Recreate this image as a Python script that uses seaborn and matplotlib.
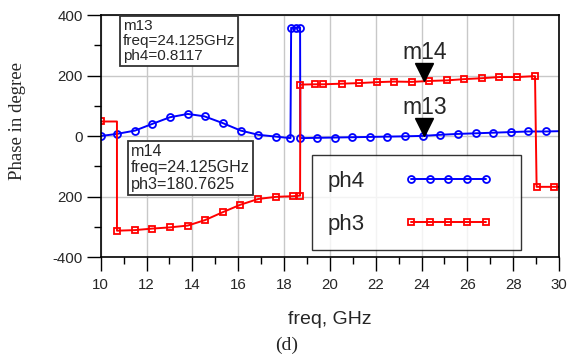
import matplotlib
matplotlib.use("Agg")
import matplotlib.pyplot as plt
from matplotlib.ticker import MultipleLocator, FixedLocator, FixedFormatter
import seaborn as sns
import pandas as pd

# ---- data ----
ph4_freq = [10.0, 10.71, 11.50, 12.25, 13.02, 13.80, 14.53, 15.35, 16.11, 16.88, 17.65,
            18.28, 18.31, 18.52, 18.70, 18.71, 19.45, 20.22, 20.98, 21.75, 22.50, 23.28,
            24.08, 24.80, 25.60, 26.36, 27.13, 27.89, 28.66, 29.42, 30.0]
ph4_val = [0, 7, 18, 40, 62, 73, 65, 42, 18, 4, -2,
           -7, 358, 358, 358, -7, -6, -5, -4, -3, -2, -1,
           0.5, 4, 7, 9, 11, 13, 15, 15, 16]
ph4_marked = list(range(len(ph4_freq) - 1))

ph3_freq = [10.0, 10.71, 10.71, 11.50, 12.25, 13.02, 13.80, 14.55, 15.32, 16.10, 16.88,
            17.65, 18.38, 18.70, 18.71, 19.35, 19.71, 20.51, 21.28, 22.04, 22.80, 23.58,
            24.34, 25.12, 25.85, 26.62, 27.39, 28.18, 28.95, 29.02, 29.79, 30.0]
ph3_val = [48, 48, -313, -311, -306, -302, -296, -278, -252, -227, -208,
           -201, -199, -197, 170, 171, 171, 173, 175, 178, 180, 179,
           182, 184, 188, 191, 195, 195, 198, -168, -168, -168]
ph3_marked = [i for i in range(len(ph3_freq) - 1) if i != 1]

x_ticks = [10, 12, 14, 16, 18, 20, 22, 24, 26, 28, 30]
y_ticks = [400, 200, 0, -200, -400]
y_tick_labels = ["400", "200", "0", "200", "-400"]

m13 = dict(name="m13", freq=24.125, value=0.8117, label="ph4")
m14 = dict(name="m14", freq=24.125, value=180.7625, label="ph3")

df4 = pd.DataFrame({"freq": ph4_freq, "phase": ph4_val})
df3 = pd.DataFrame({"freq": ph3_freq, "phase": ph3_val})

# ---- style ----
sns.set_style("white")
plt.rcParams["font.family"] = ["Liberation Sans", "DejaVu Sans"]

fig = plt.figure(figsize=(5.74, 3.55), dpi=100)
ax = fig.add_axes([0.1754, 0.276, 0.7986, 0.6817])

sns.lineplot(data=df4, x="freq", y="phase", ax=ax, sort=False, estimator=None,
             color="#0000ff", lw=1.4, marker="o", markersize=5, mfc="none",
             mec="#0000ff", mew=1.3, markevery=ph4_marked, label="ph4", legend=False)
sns.lineplot(data=df3, x="freq", y="phase", ax=ax, sort=False, estimator=None,
             color="#ff0000", lw=1.4, marker="s", markersize=5, mfc="none",
             mec="#ff0000", mew=1.3, markevery=ph3_marked, label="ph3", legend=False)

ax.set_xlim(10, 30)
ax.set_ylim(-400, 400)
ax.xaxis.set_major_locator(FixedLocator(x_ticks))
ax.xaxis.set_minor_locator(MultipleLocator(1))
ax.yaxis.set_major_locator(FixedLocator(y_ticks))
ax.yaxis.set_major_formatter(FixedFormatter(y_tick_labels))
ax.yaxis.set_minor_locator(MultipleLocator(100))
ax.tick_params(which="major", direction="out", length=10, width=1, color="black",
               labelsize=10.8, bottom=True, left=True, pad=3)
ax.tick_params(axis="x", which="major", pad=5)
ax.tick_params(which="minor", direction="out", length=5, width=1, color="black",
               bottom=True, left=True)
ax.grid(True, which="major", color="#c8c8c8", lw=1)
ax.set_axisbelow(True)
for s in ax.spines.values():
    s.set_color("black")
    s.set_linewidth(1.2)

ax.set_xlabel("")
ax.set_ylabel("")
fig.text(0.5749, 1 - 320 / 355, "freq, GHz", ha="center", va="center", fontsize=14)
fig.text(0.5, 1 - 345 / 355, "(d)", ha="center", va="center", fontsize=14,
         family=["Liberation Serif", "DejaVu Serif"])
fig.text(18 / 574, 1 - 121.5 / 355, "Phase in degree", rotation=90, ha="center",
         va="center", fontsize=13.5, family=["Liberation Serif", "DejaVu Serif"])

# markers m13/m14
for m in (m13, m14):
    ax.plot([m["freq"]], [m["value"] + 30], marker="v", markersize=13, color="black",
            ls="none")
    ax.text(m["freq"], m["value"] + 95, m["name"], ha="center", va="center", fontsize=16.5)

box = dict(boxstyle="square,pad=0.2", fc="white", ec="#333333", lw=1.3)
ax.text(0.048, 0.985, "%s\nfreq=%.3fGHz\n%s=%.4f" % (m13["name"], m13["freq"], m13["label"], m13["value"]),
        transform=ax.transAxes, ha="left", va="top", fontsize=11, linespacing=1.12, bbox=box)
ax.text(0.066, 0.468, "%s\nfreq=%.3fGHz\n%s=%.4f" % (m14["name"], m14["freq"], m14["label"], m14["value"]),
        transform=ax.transAxes, ha="left", va="top", fontsize=11.6, linespacing=1.12, bbox=box)

h, l = ax.get_legend_handles_labels()
leg = ax.legend(h, l, loc="upper left",
                bbox_to_anchor=(0.4604, 0.4215 - 0.3884, 0.4567, 0.3884), mode="expand",
                borderaxespad=0,
                markerfirst=False, numpoints=5, handlelength=3.95, handletextpad=1.8,
                fontsize=16, frameon=True, fancybox=False, edgecolor="black",
                borderpad=0.7, labelspacing=1.0)
leg.get_frame().set_linewidth(1.0)
for lh in leg.legend_handles:
    lh.set_markevery(None)

fig.savefig("out.png", dpi=100)
